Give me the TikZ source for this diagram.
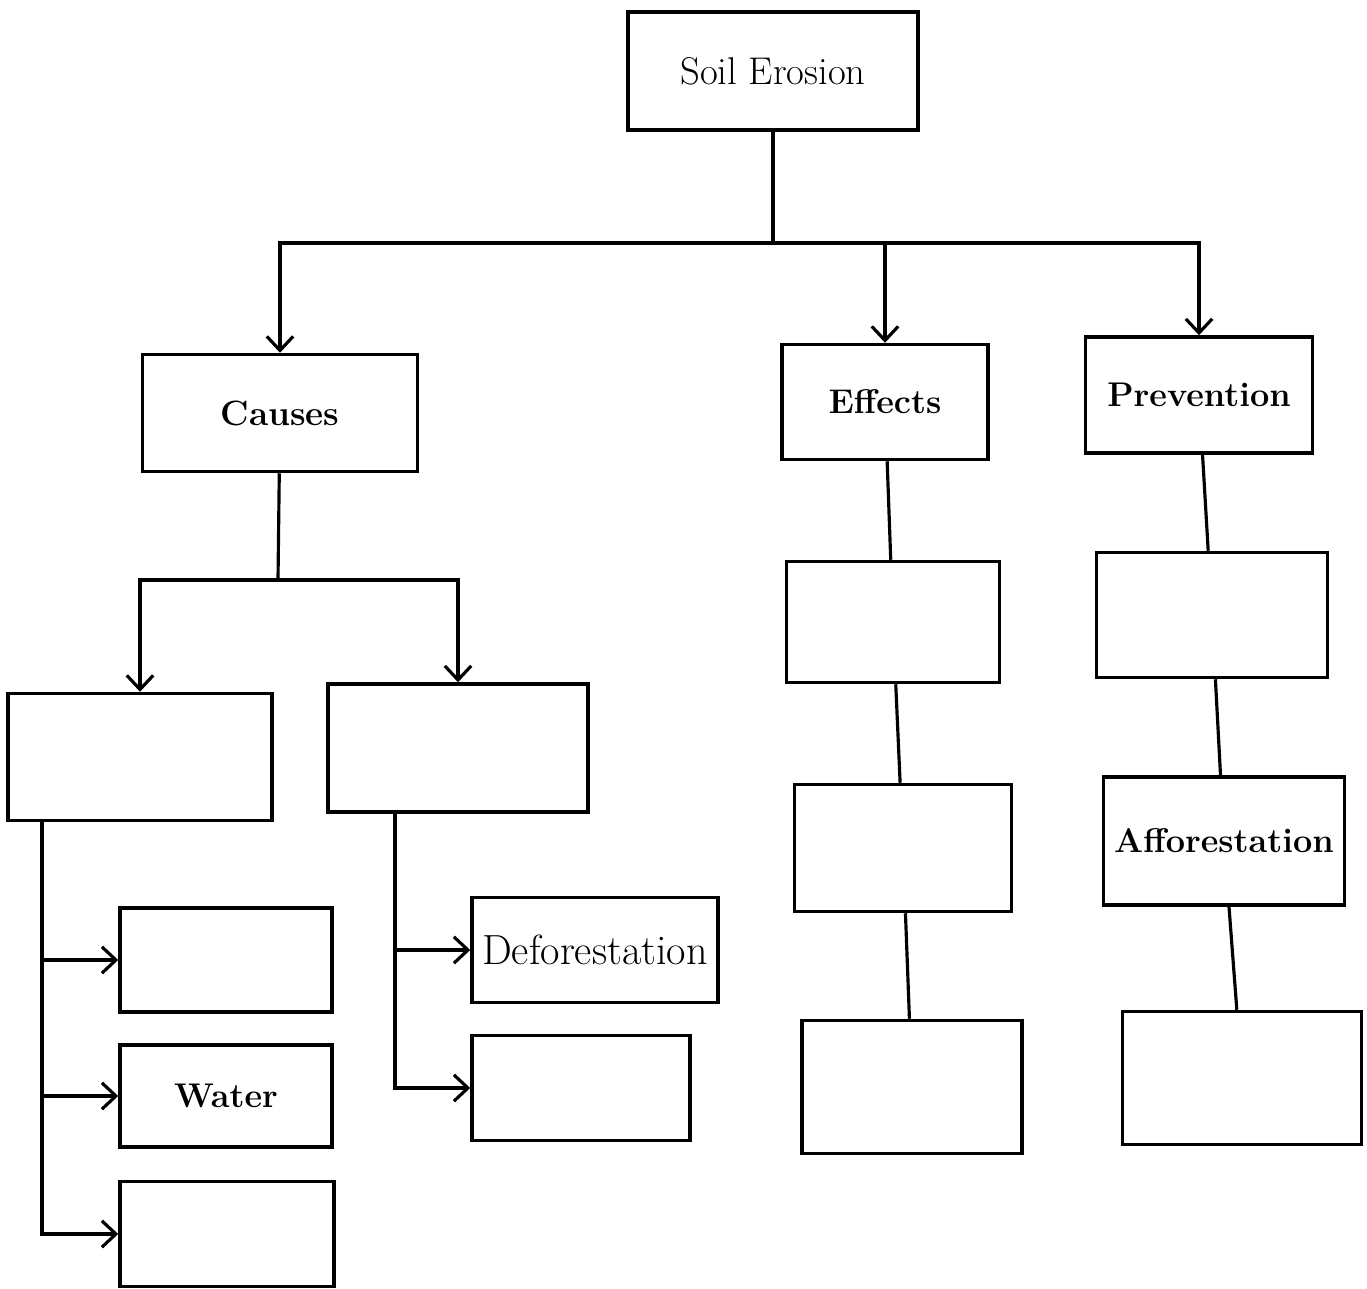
\documentclass[tikz,border=0pt]{standalone}
\usetikzlibrary{positioning,arrows.meta}
\tikzset{>={Straight Barb[length=8pt,width=15pt,line width=1.8pt]}}
\tikzset{
  box/.style={draw=black,line width=2pt,rectangle,inner sep=0pt,font=\fontsize{22}{26}\selectfont},
  boldbox/.style={box,font=\fontsize{19.5}{23}\selectfont\bfseries},
  link/.style={line width=1.8pt}
}

\begin{document}
\begin{tikzpicture}[x=0.02cm,y=-0.02cm]
\useasboundingbox (0,0) rectangle (1367,1289);

\node[box,minimum width =5.8cm ,minimum height =2.36cm] (soil) at(773,71){Soil Erosion};

\node[boldbox,font=\fontsize{20}{24}\selectfont\bfseries,minimum width =5.5cm ,minimum height =2.34cm] (causes) at(280,413){Causes};
\node[boldbox,minimum width =4.12cm ,minimum height =2.3cm] (effects) at(885,402){Effects};
\node[boldbox,minimum width =4.54cm ,minimum height =2.32cm] (prevention) at(1199,395){Prevention};

\node[box,minimum width =5.28cm ,minimum height =2.54cm] (c1) at(140,757){};
\node[box,minimum width =5.2cm ,minimum height =2.56cm] (c2) at(458,748){};

\node[box,minimum width =4.24cm ,minimum height =2.08cm] (c11) at(226,960){};
\node[boldbox,minimum width =4.24cm ,minimum height =2.04cm] (water) at(226,1096){Water};
\node[box,minimum width =4.28cm ,minimum height =2.1cm] (c13) at(227,1234){};

\node[box,font=\fontsize{24}{28}\selectfont,minimum width =4.92cm ,minimum height =2.1cm] (defor) at(595,950){Deforestation};
\node[box,minimum width =4.36cm ,minimum height =2.1cm] (c22) at(581,1088){};

\node[box,minimum width =4.26cm ,minimum height =2.42cm] (e1) at(893,622){};
\node[box,minimum width =4.34cm ,minimum height =2.54cm] (e2) at(903,848){};
\node[box,minimum width =4.4cm ,minimum height =2.66cm] (e3) at(912,1087){};

\node[box,minimum width =4.62cm ,minimum height =2.5cm] (p1) at(1212,615){};
\node[boldbox,minimum width =4.82cm ,minimum height =2.56cm] (affor) at(1224,841){Afforestation};
\node[box,minimum width =4.78cm ,minimum height =2.66cm] (p3) at(1242,1078){};

\coordinate (top) at(773,243);
\coordinate (cj) at(278,580);
\coordinate (abus) at(42,1236);
\coordinate (bbus) at(395,1088);

\draw[link] (soil) --(top);
\draw[link,->] (top) -|(causes);
\draw[link,->] (top) -|(prevention);
\draw[link,->] (effects |- top) --(effects);

\draw[link] (causes) --(cj);
\draw[link,->] (cj) -|(c1);
\draw[link,->] (cj) -|(c2);

\draw[link,->] (c1.south -| abus) |-(c13);
\draw[link,->] (abus |- c11) --(c11);
\draw[link,->] (abus |- water) --(water);

\draw[link,->] (c2.south -| bbus) |-(c22);
\draw[link,->] (bbus |- defor) --(defor);

\draw[link] (effects) --(e1);
\draw[link] (e1) --(e2);
\draw[link] (e2) --(e3);

\draw[link] (prevention) --(p1);
\draw[link] (p1) --(affor);
\draw[link] (affor) --(p3);

\end{tikzpicture}
\end{document}
